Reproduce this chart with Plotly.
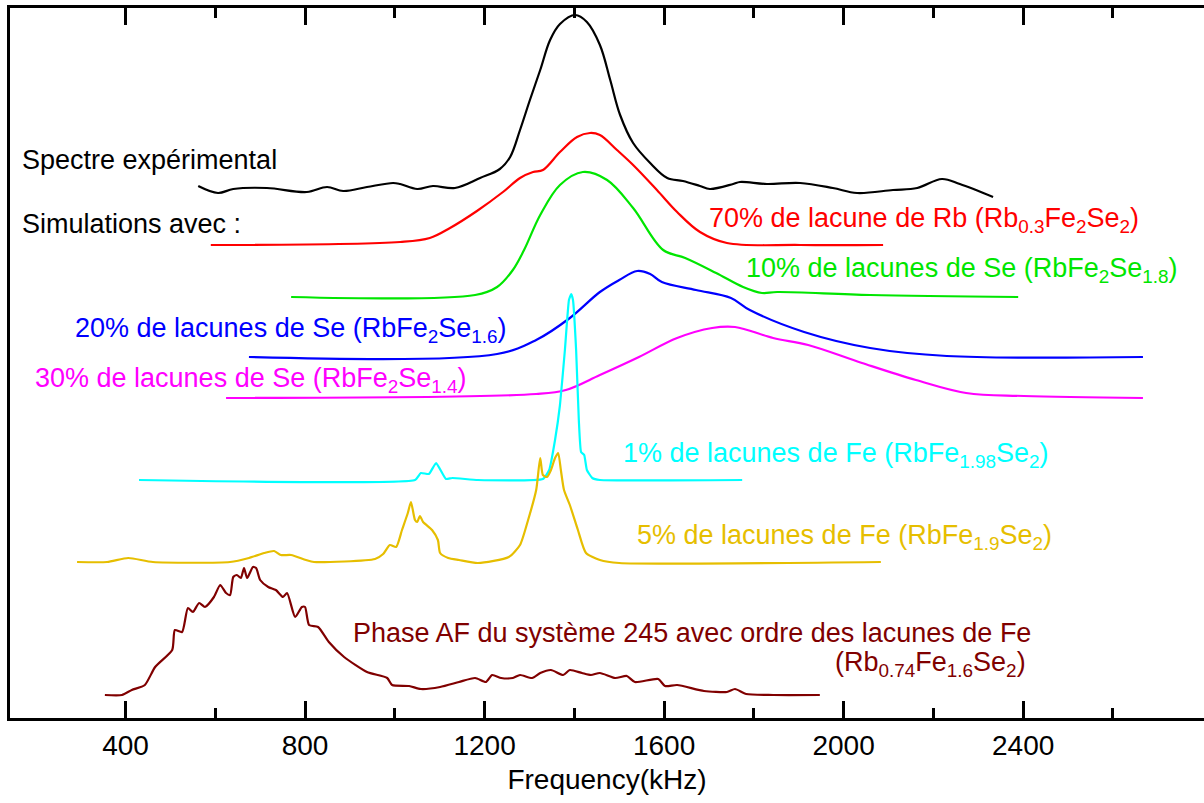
import plotly.graph_objects as go

exp_f = [562, 606, 640, 715, 804, 849, 885, 938, 996, 1012, 1050, 1085, 1134, 1190, 1234, 1257, 1279,
         1301, 1324, 1346, 1368, 1402, 1428, 1457, 1480, 1502, 1531, 1569, 1607, 1642, 1680, 1702,
         1754, 1769, 1829, 1903, 1976, 2030, 2110, 2164, 2219, 2259, 2333]
exp_y = [532, 525, 529, 530, 526, 531, 527, 531, 535, 534, 529, 532, 530, 540, 549, 561, 588,
         618, 648, 678, 694, 703, 696, 673, 638, 603, 575, 555, 540, 537, 532, 529,
         534, 536, 534, 535, 530, 525, 528, 530, 539, 534, 521]

rb70_f = [590, 1012, 1078, 1123, 1183, 1241, 1279, 1308, 1330, 1368, 1406, 1435, 1457, 1495, 1531,
          1584, 1629, 1680, 1740, 1903, 2088]
rb70_y = [473, 476, 480, 490, 507, 526, 540, 546, 548, 566, 581, 585, 583, 568, 553,
          528, 506, 486, 475, 473, 473]

se10_f = [769, 1179, 1228, 1263, 1288, 1324, 1368, 1419, 1473, 1531, 1598, 1647, 1716, 1776, 1818,
          1852, 2059, 2389]
se10_y = [421, 423, 431, 448, 468, 503, 533, 546, 538, 510, 468, 460, 445, 431, 425,
          426, 423, 421]

se20_f = [675, 1228, 1315, 1390, 1457, 1500, 1540, 1569, 1595, 1671, 1749, 1791, 1912, 2059, 2230, 2667]
se20_y = [361, 364, 378, 400, 426, 438, 447, 444, 436, 428, 420, 408, 386, 370, 362, 361]

se30_f = [624, 1315, 1381, 1457, 1544, 1629, 1707, 1758, 1843, 1921, 2041, 2161, 2273, 2402, 2667]
se30_y = [320, 324, 328, 343, 361, 380, 390, 391, 380, 373, 355, 338, 325, 322, 320]

fe1_f = [430, 1045, 1058, 1076, 1092, 1114, 1128, 1185, 1330, 1344, 1357, 1368, 1379, 1388, 1393,
         1397, 1404, 1410, 1415, 1422, 1428, 1440, 1457, 1774]
fe1_y = [238, 238, 245, 244, 255, 239, 240, 238, 239, 248, 278, 313, 368, 418, 424,
         418, 368, 298, 266, 263, 248, 240, 238, 238]

fe5_f = [292, 359, 406, 461, 633, 675, 709, 731, 746, 769, 802, 820, 956, 974, 989, 1003, 1016,
         1029, 1036, 1045, 1050, 1056, 1063, 1083, 1096, 1101, 1119, 1143, 1185, 1254, 1279, 1297,
         1315, 1324, 1330, 1339, 1348, 1357, 1364, 1370, 1377, 1390, 1408, 1426, 1457, 1500, 2083]
fe5_y = [156, 156, 160, 156, 156, 160, 165, 167, 163, 163, 158, 156, 159, 164, 173, 171, 188,
         205, 216, 198, 196, 202, 196, 188, 178, 165, 160, 158, 155, 161, 173, 198,
         228, 260, 243, 241, 248, 260, 265, 248, 228, 213, 188, 165, 158, 155, 156]

af_f = [354, 392, 414, 443, 466, 504, 510, 526, 539, 550, 564, 577, 597, 611, 624, 633, 640, 648,
        657, 664, 671, 684, 691, 700, 718, 735, 751, 760, 778, 793, 800, 809, 829, 853, 887, 938,
        983, 994, 1032, 1058, 1101, 1143, 1179, 1203, 1217, 1237, 1263, 1279, 1306, 1324, 1348,
        1375, 1390, 1417, 1437, 1457, 1491, 1517, 1535, 1587, 1602, 1629, 1689, 1740, 1758, 1783,
        1843, 1947]
af_y = [23, 23, 28, 33, 51, 68, 88, 86, 110, 106, 115, 111, 121, 133, 125, 123, 141, 143,
        140, 150, 140, 151, 150, 138, 131, 128, 121, 125, 101, 111, 111, 93, 91, 76, 61, 46,
        40, 33, 32, 29, 31, 36, 40, 36, 43, 40, 40, 43, 40, 45, 48,
        43, 48, 45, 43, 45, 40, 42, 36, 39, 32, 33, 27, 26, 29, 24,
        23, 23]

tick_vals = [400, 800, 1200, 1600, 2000, 2400]
minor_vals = [600, 1000, 1400, 1800, 2200, 2600]

# (x, y, colour, spline smoothing)
series = [
    (exp_f, exp_y, "#000000", 1.0),
    (rb70_f, rb70_y, "#FF0000", 1.0),
    (se10_f, se10_y, "#00E600", 1.0),
    (se20_f, se20_y, "#0000FF", 1.0),
    (se30_f, se30_y, "#FF00FF", 1.0),
    (fe1_f, fe1_y, "#00FFFF", 0.4),
    (fe5_f, fe5_y, "#E6BE00", 0.6),
    (af_f, af_y, "#800000", 0.6),
]

fig = go.Figure()
for xs, ys, col, sm in series:
    fig.add_trace(go.Scatter(x=xs, y=ys, mode="lines",
                             line=dict(color=col, width=2.2, shape="spline", smoothing=sm),
                             showlegend=False, hoverinfo="skip"))

font = "Liberation Sans, Arial, sans-serif"
labels = [
    ("Spectre expérimental", 165, 558, "#000000", "left"),
    ("Simulations avec :", 165, 494, "#000000", "left"),
    ("70% de lacune de Rb (Rb<sub>0.3</sub>Fe<sub>2</sub>Se<sub>2</sub>)", 1696, 498, "#FF0000", "left"),
    ("10% de lacunes de Se (RbFe<sub>2</sub>Se<sub>1.8</sub>)", 1778, 448, "#00E600", "left"),
    ("20% de lacunes de Se (RbFe<sub>2</sub>Se<sub>1.6</sub>)", 283, 388, "#0000FF", "left"),
    ("30% de lacunes de Se (RbFe<sub>2</sub>Se<sub>1.4</sub>)", 194, 338, "#FF00FF", "left"),
    ("1% de lacunes de Fe (RbFe<sub>1.98</sub>Se<sub>2</sub>)", 1503, 263, "#00FFFF", "left"),
    ("5% de lacunes de Fe (RbFe<sub>1.9</sub>Se<sub>2</sub>)", 1536, 181, "#E6BE00", "left"),
    ("Phase AF du système 245 avec ordre des lacunes de Fe", 903, 85, "#800000", "left"),
    ("(Rb<sub>0.74</sub>Fe<sub>1.6</sub>Se<sub>2</sub>)", 2411, 54, "#800000", "right"),
]
for txt, x, y, col, anc in labels:
    fig.add_annotation(x=x, y=y, xref="x", yref="y", text=txt, showarrow=False,
                       xanchor=anc, yanchor="middle", font=dict(family=font, size=27, color=col))

fig.update_layout(
    width=1204, height=803,
    margin=dict(l=10, r=0, t=8, b=85),
    plot_bgcolor="white", paper_bgcolor="white",
    font=dict(family=font, color="black"),
)
fig.update_xaxes(
    range=[142.6, 2803], showgrid=False, zeroline=False,
    showline=True, linewidth=3, linecolor="black", mirror="ticks",
    ticks="inside", ticklen=17, tickwidth=3, tickcolor="black",
    tickmode="array", tickvals=tick_vals, tickfont=dict(size=28, family=font, color="black"),
    minor=dict(ticks="inside", ticklen=10, tickwidth=3, tickcolor="black", tickmode="array", tickvals=minor_vals),
    title=dict(text="Frequency(kHz)", font=dict(size=28, family=font, color="black"), standoff=10),
)
fig.update_yaxes(
    range=[0, 710], showgrid=False, zeroline=False, showticklabels=False,
    showline=True, linewidth=3, linecolor="black", mirror=False, ticks="",
)

fig.write_html("out.html", config={"displayModeBar": False},
               post_script="document.body.style.margin='0';")
